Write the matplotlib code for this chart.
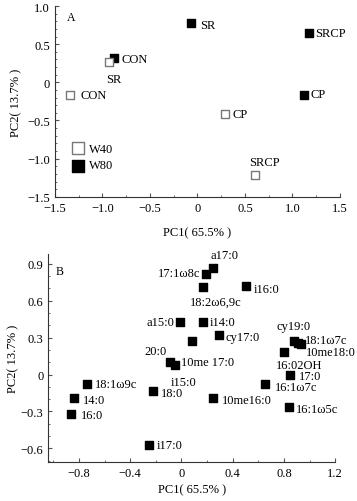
import matplotlib
matplotlib.use("Agg")
from matplotlib import pyplot as plt
from matplotlib.ticker import MultipleLocator

plt.rcParams['font.family'] = ['Liberation Serif', 'DejaVu Serif']
plt.rcParams['font.size'] = 9

# panel A: treatment scores (W80 filled, W40 open)
a_names = ["CON", "SR", "CP", "SRCP"]
a_w80_x = [-0.88, -0.07, 1.12, 1.17]
a_w80_y = [0.32, 0.78, -0.16, 0.65]
a_w40_x = [-1.34, -0.93, 0.29, 0.61]
a_w40_y = [-0.17, 0.27, -0.41, -1.21]

# panel B: fatty acid loadings
b_names = ["a17:0", "17:1ω8c", "18:2ω6,9c", "i16:0", "a15:0", "i14:0",
           "cy17:0", "10me 17:0", "20:0", "i15:0", "cy19:0", "18:1ω7c",
           "10me18:0", "16:02OH", "17:0", "16:1ω7c", "16:1ω5c", "10me16:0",
           "18:0", "18:1ω9c", "14:0", "16:0", "i17:0"]
b_x = [0.25, 0.19, 0.17, 0.50, -0.01, 0.17, 0.29, 0.08, -0.09, -0.05,
       0.88, 0.91, 0.93, 0.80, 0.85, 0.65, 0.84, 0.25, -0.22, -0.74,
       -0.84, -0.86, -0.25]
b_y = [0.87, 0.82, 0.71, 0.72, 0.43, 0.43, 0.32, 0.27, 0.10, 0.08,
       0.27, 0.26, 0.25, 0.18, 0.00, -0.08, -0.26, -0.19, -0.13, -0.08,
       -0.19, -0.32, -0.57]

# label placement (data coords, alignment)
a_w80_lab = {"CON": (-0.80, 0.30, "left"), "SR": (0.03, 0.755, "left"),
             "CP": (1.19, -0.15, "left"), "SRCP": (1.24, 0.64, "left")}
a_w40_lab = {"CON": (-1.235, -0.17, "left"), "SR": (-0.884, 0.05, "center"),
             "CP": (0.37, -0.42, "left"), "SRCP": (0.71, -1.04, "center")}
b_lab = {"a17:0": (0.333, 0.975, "center"), "17:1ω8c": (0.15, 0.824, "right"),
         "18:2ω6,9c": (0.268, 0.595, "center"), "i16:0": (0.562, 0.698, "left"),
         "a15:0": (-0.052, 0.427, "right"), "i14:0": (0.22, 0.427, "left"),
         "cy17:0": (0.346, 0.307, "left"), "10me 17:0": (0.0, 0.098, "left"),
         "20:0": (-0.205, 0.19, "center"), "i15:0": (0.015, -0.062, "center"),
         "cy19:0": (0.877, 0.391, "center"), "18:1ω7c": (0.965, 0.283, "left"),
         "10me18:0": (0.97, 0.186, "left"), "16:02OH": (0.919, 0.08, "center"),
         "17:0": (0.919, -0.01, "left"), "16:1ω7c": (0.727, -0.103, "left"),
         "16:1ω5c": (0.892, -0.279, "left"), "10me16:0": (0.315, -0.204, "left"),
         "18:0": (-0.16, -0.15, "left"), "18:1ω9c": (-0.672, -0.075, "left"),
         "14:0": (-0.769, -0.204, "left"), "16:0": (-0.782, -0.33, "left"),
         "i17:0": (-0.192, -0.573, "left")}


def fmt(v, p):
    if abs(v) < 1e-9:
        return "0"
    return ("%.1f" % v).replace("-", "\u2212")


def style(ax):
    for s in ["top", "right"]:
        ax.spines[s].set_visible(False)
    for s in ["left", "bottom"]:
        ax.spines[s].set_linewidth(0.8)
        ax.spines[s].set_color("#333333")
    ax.tick_params(which="both", direction="in", labelsize=9, color="#555555")
    ax.tick_params(which="major", length=3)
    ax.tick_params(which="minor", length=1.5)
    ax.xaxis.set_major_formatter(plt.FuncFormatter(fmt))
    ax.yaxis.set_major_formatter(plt.FuncFormatter(fmt))


fig = plt.figure(figsize=(3.57, 5.02), dpi=100)
axA = fig.add_axes([0.154, 0.606, 0.798, 0.380])
axB = fig.add_axes([0.135, 0.078, 0.804, 0.414])

# ---- panel A
axA.scatter(a_w80_x, a_w80_y, marker="s", s=30, c="black", zorder=3)
axA.scatter(a_w40_x, a_w40_y, marker="s", s=28, facecolors="white",
            edgecolors="#777777", linewidths=1.0, zorder=3)
for n in a_names:
    x, y, ha = a_w80_lab[n]
    axA.text(x, y, n, ha=ha, va="center")
    x, y, ha = a_w40_lab[n]
    axA.text(x, y, n, ha=ha, va="center")
# legend squares
axA.scatter([-1.26], [-0.86], marker="s", s=75, facecolors="white",
            edgecolors="#777777", linewidths=1.0, zorder=3)
axA.scatter([-1.26], [-1.09], marker="s", s=75, c="black", zorder=3)
axA.text(-1.147, -0.869, "W40", va="center")
axA.text(-1.147, -1.087, "W80", va="center")
axA.text(-1.37, 0.82, "A", fontsize=8.5)
axA.set_xlim(-1.5, 1.5)
axA.set_ylim(-1.5, 1.0)
axA.xaxis.set_major_locator(MultipleLocator(0.5))
axA.yaxis.set_major_locator(MultipleLocator(0.5))
axA.xaxis.set_minor_locator(MultipleLocator(0.25))
axA.yaxis.set_minor_locator(MultipleLocator(0.1))
axA.set_xlabel("PC1( 65.5% )", labelpad=9)
axA.set_ylabel("PC2( 13.7% )", labelpad=4)
style(axA)

# ---- panel B
axB.scatter(b_x, b_y, marker="s", s=32, c="black", zorder=3)
for n in b_names:
    x, y, ha = b_lab[n]
    axB.text(x, y, n, ha=ha, va="center")
axB.text(-0.98, 0.82, "B", fontsize=8.5)
axB.set_xlim(-1.04, 1.2)
axB.set_ylim(-0.71, 0.98)
axB.set_xticks([-0.8, -0.4, 0, 0.4, 0.8, 1.2])
axB.set_yticks([-0.6, -0.3, 0, 0.3, 0.6, 0.9])
axB.xaxis.set_minor_locator(MultipleLocator(0.2))
axB.yaxis.set_minor_locator(MultipleLocator(0.1))
axB.set_xlabel("PC1( 65.5% )", labelpad=3)
axB.set_ylabel("PC2( 13.7% )", labelpad=1)
style(axB)

fig.savefig("out.png", dpi=100)
